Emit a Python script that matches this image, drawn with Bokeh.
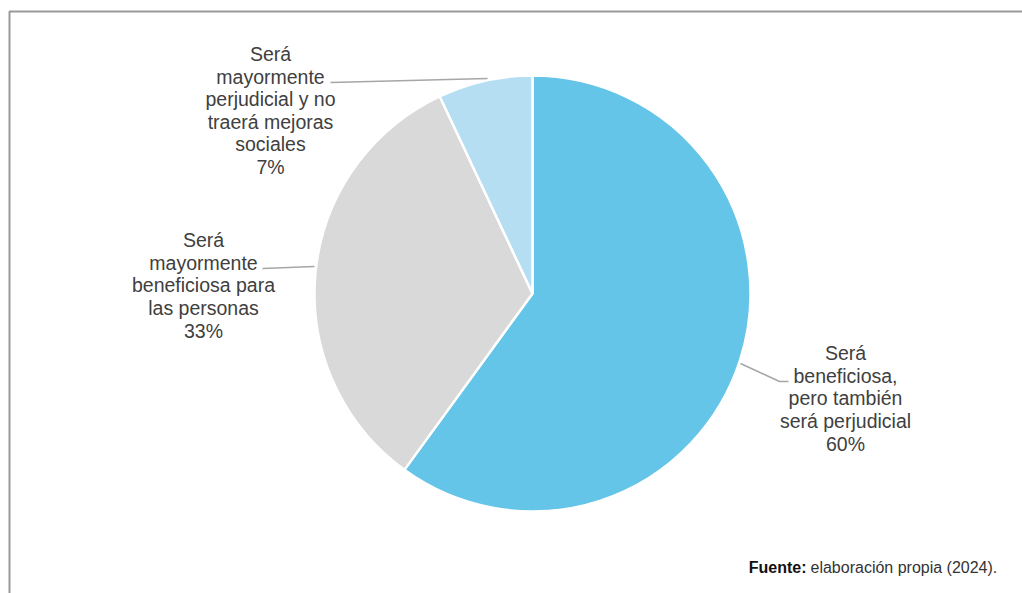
import math
from bokeh.plotting import figure
from bokeh.models import Range1d
from bokeh.core.properties import value
from bokeh.embed import file_html
from bokeh.resources import INLINE

# ---- data ----
categories = [
    "Será\nbeneficiosa,\npero también\nserá perjudicial",
    "Será\nmayormente\nbeneficiosa para\nlas personas",
    "Será\nmayormente\nperjudicial y no\ntraerá mejoras\nsociales",
]
percents = [60, 33, 7]
colors = ["#64C5E8", "#D9D9D9", "#B5DEF2"]
source_bold = "Fuente:"
source_text = "elaboración propia (2024)."

# ---- layout (pixels within the figure, y up) ----
W, H = 1022, 593
cx, cy, R = 532, 300, 218
label_pos = [(845, 195), (203, 308), (270, 483)]
leaders = [
    ([740, 779, 788], [230, 212, 212]),
    ([262, 314], [325, 327]),
    ([330, 487], [511, 515]),
]

p = figure(width=W, height=H, output_backend="svg", toolbar_location=None,
           x_range=Range1d(0, W), y_range=Range1d(0, H), min_border=0)
p.axis.visible = False
p.grid.visible = False
p.outline_line_color = None
p.background_fill_color = "white"
p.border_fill_color = "white"

# frame (top and left)
p.line([9, 9, W], [0, 582, 582], line_color="#999999", line_width=2)

# wedges, clockwise from 12 o'clock
total = sum(percents)
start = math.pi / 2
starts, ends = [], []
for v in percents:
    a = 2 * math.pi * v / total
    starts.append(start)
    ends.append(start - a)
    start -= a
p.wedge(x=[cx] * 3, y=[cy] * 3, radius=R, start_angle=starts, end_angle=ends,
        direction="clock", fill_color=colors, line_color="white", line_width=2.5)

# leader lines
for xs, ys in leaders:
    p.line(xs, ys, line_color="#A6A6A6", line_width=1.6)

# labels
texts = [f"{c}\n{v}%" for c, v in zip(categories, percents)]
p.text(x=[lp[0] for lp in label_pos], y=[lp[1] for lp in label_pos], text=texts,
       text_align="center", text_baseline="middle", text_font=value("Liberation Sans"),
       text_font_size="19.5px", text_color="#404040", text_line_height=1.03)

# source note
p.text(x=[806], y=[26], text=[source_bold], text_align="right", text_baseline="alphabetic",
       text_font=value("Liberation Sans"), text_font_style="bold", text_font_size="16px",
       text_color="#111111")
p.text(x=[810], y=[26], text=[source_text], text_align="left", text_baseline="alphabetic",
       text_font=value("Liberation Sans"), text_font_size="16px", text_color="#333333")

open("out.html", "w").write(file_html(p, INLINE))
